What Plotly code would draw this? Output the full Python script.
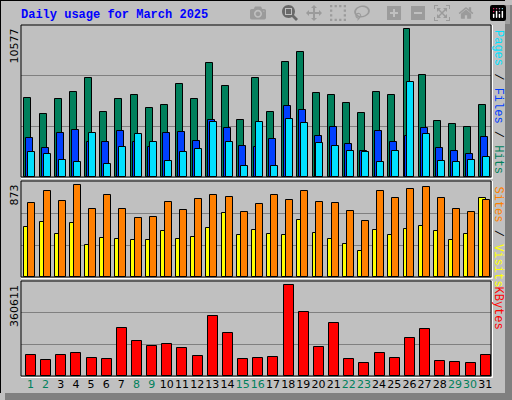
import plotly.graph_objects as go

days = list(range(1, 32))
hits = [5497,4384,5428,5915,6889,4523,5428,5706,4801,5010,6471,5428,7932,6332,3966,6889,
        4523,8002,8698,5845,5706,5149,4453,5915,5706,10299,7097,3897,3688,3479,5010]
files = [2714,2018,3062,3270,2435,2435,3201,2435,2088,3062,3131,2505,3966,3410,2157,2088,
         2644,4940,4662,2853,3479,2296,1809,3201,2435,2853,3410,2018,1809,1600,2783]
pages = [1740,1600,1183,1044,3062,905,2088,2992,2435,1113,1740,1948,3827,2435,765,3827,
         765,4036,3757,2366,2157,1809,1740,1044,1809,6610,2992,1113,1044,1183,1392]
visits = [676,785,694,840,621,749,621,540,549,685,612,712,749,731,594,661,
          749,703,785,685,676,603,512,785,721,803,821,721,621,594,703]
sites = [458,503,394,494,294,358,349,340,340,421,349,367,449,585,385,430,
         394,385,521,403,349,303,239,430,385,440,467,421,340,394,721]
kbytes = [78173,59261,78173,85738,66826,63044,184088,131131,112218,119783,104653,74391,229479,161392,63044,66826,
          70609,346741,244609,108435,203001,63044,47913,85738,66826,142479,180305,55479,51696,47913,78173]
weekend = [1,2,8,9,15,16,22,23,29,30]
max_hits, max_visits, max_kb = 10577, 873, 360611

W, H = 512, 400
def fx(p): return p / W
def fy(p): return 1 - p / H

X0, X1 = 21, 491
panels = {"y": (25, 177), "y2": (181, 277), "y3": (281, 376)}

fig = go.Figure()
def bar(y, color, off, w, ax):
    fig.add_trace(go.Bar(x=days, y=y, marker=dict(color=color, line=dict(color="black", width=1)),
                         width=w, offset=off - w/2, xaxis="x" if ax == "y" else "x" + ax[1:], yaxis=ax,
                         showlegend=False, hoverinfo="skip"))

bar(hits, "#00805c", -0.04, 0.46, "y")
bar(files, "#0040ff", 0.09, 0.46, "y")
bar(pages, "#00e0ff", 0.22, 0.46, "y")
bar(sites, "#ffff00", -0.04, 0.46, "y2")
bar(visits, "#ff8000", 0.22, 0.46, "y2")
bar(kbytes, "#ff0000", 0.15, 0.66, "y3")

ticktext = [f'<span style="color:{"#00805c" if d in weekend else "black"}">{d}</span>' for d in days]
layout = dict(width=W, height=H, margin=dict(l=0, r=0, t=0, b=0), paper_bgcolor="#c0c0c0",
              plot_bgcolor="#c0c0c0", barmode="overlay", bargap=0)
for ax, mx in (("y", max_hits), ("y2", max_visits), ("y3", max_kb)):
    xa = "xaxis" if ax == "y" else "xaxis" + ax[1:]
    ya = "yaxis" if ax == "y" else "yaxis" + ax[1:]
    t, b = panels[ax]
    layout[xa] = dict(domain=[fx(X0), fx(X1)], range=[0.5, 31.5], showgrid=False, zeroline=False,
                      anchor=ax, showticklabels=(ax == "y3"), tickangle=0,
                      tickvals=[d + 0.12 for d in days], ticktext=ticktext, ticks="",
                      tickfont=dict(family="DejaVu Sans", size=11))
    layout[ya] = dict(domain=[fy(b), fy(t)], range=[0, mx], tickvals=[mx/3, 2*mx/3], showticklabels=False,
                      showgrid=True, gridcolor="#808080", gridwidth=1, zeroline=False,
                      anchor="x" if ax == "y" else "x" + ax[1:])
    fig.add_annotation(text=str(mx), xref="paper", yref="paper", x=fx(14), y=fy(t + 2), textangle=-90,
                       xanchor="center", yanchor="top", showarrow=False,
                       font=dict(family="DejaVu Sans", size=11, color="black"))
fig.update_layout(**layout)

shapes = [
    dict(type="rect", xref="paper", yref="paper", x0=fx(505), x1=1, y0=0, y1=fy(5), fillcolor="#808080", line_width=0, layer="below"),
    dict(type="rect", xref="paper", yref="paper", x0=fx(5), x1=1, y0=0, y1=fy(393), fillcolor="#808080", line_width=0, layer="below"),
    dict(type="line", xref="paper", yref="paper", x0=0, x1=fx(505), y0=fy(0.5), y1=fy(0.5), line=dict(color="black", width=1)),
    dict(type="line", xref="paper", yref="paper", x0=fx(0.5), x1=fx(0.5), y0=fy(393), y1=1, line=dict(color="black", width=1)),
]
for ax, (t, b) in panels.items():
    shapes.append(dict(type="rect", xref="paper", yref="paper", x0=fx(X0), x1=fx(X1), y0=fy(b), y1=fy(t),
                       line=dict(color="black", width=1), layer="above"))
    shapes.append(dict(type="line", xref="paper", yref="paper", x0=fx(X0), x1=fx(X1 + 1.5), y0=fy(b + 1.5), y1=fy(b + 1.5),
                       line=dict(color="white", width=1)))
    shapes.append(dict(type="line", xref="paper", yref="paper", x0=fx(X1 + 1.5), x1=fx(X1 + 1.5), y0=fy(b + 1.5), y1=fy(t),
                       line=dict(color="white", width=1)))
fig.update_layout(shapes=shapes)

mono = "Liberation Mono"
fig.add_annotation(text="<b>Daily usage for March 2025</b>", xref="paper", yref="paper", x=fx(19), y=fy(15),
                   xanchor="left", yanchor="middle", showarrow=False, font=dict(family=mono, size=12, color="#0000ff"))
right = [
    ('<span style="color:#00e0ff">Pages</span> / <span style="color:#0040ff">Files</span> / <span style="color:#00805c">Hits</span>', 25),
    ('<span style="color:#ff8000">Sites</span> / <span style="color:#ffff00">Visits</span>', 181),
    ('<span style="color:#ff0000">KBytes</span>', 281),
]
for txt, t in right:
    fig.add_annotation(text=txt, xref="paper", yref="paper", x=fx(498), y=fy(t + 3), textangle=90,
                       xanchor="center", yanchor="top", showarrow=False, font=dict(family=mono, size=12, color="black"))

fig.write_html("out.html", post_script="document.body.style.margin='0';document.body.style.overflow='hidden';")
